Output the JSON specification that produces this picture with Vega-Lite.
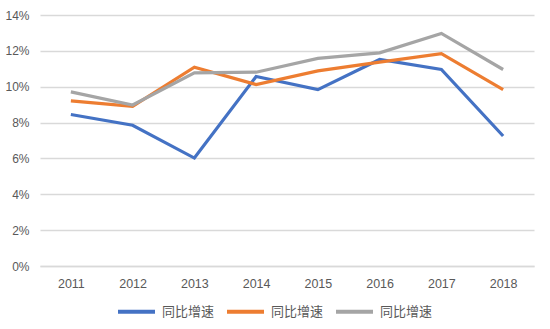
{
  "$schema": "https://vega.github.io/schema/vega-lite/v6.json",
  "width": 494,
  "height": 251,
  "autosize": {"type": "none"},
  "padding": {"left": 40, "top": 15, "right": 16, "bottom": 63},
  "background": "white",
  "config": {
    "view": {"stroke": null},
    "font": "Noto Sans CJK SC"
  },
  "data": {
    "values": [
      {"year": "2011", "series": "s1", "value": 8.45},
      {"year": "2012", "series": "s1", "value": 7.85},
      {"year": "2013", "series": "s1", "value": 6.02},
      {"year": "2014", "series": "s1", "value": 10.57},
      {"year": "2015", "series": "s1", "value": 9.84},
      {"year": "2016", "series": "s1", "value": 11.52},
      {"year": "2017", "series": "s1", "value": 10.96},
      {"year": "2018", "series": "s1", "value": 7.25},
      {"year": "2011", "series": "s2", "value": 9.21},
      {"year": "2012", "series": "s2", "value": 8.91},
      {"year": "2013", "series": "s2", "value": 11.09},
      {"year": "2014", "series": "s2", "value": 10.12},
      {"year": "2015", "series": "s2", "value": 10.88},
      {"year": "2016", "series": "s2", "value": 11.37},
      {"year": "2017", "series": "s2", "value": 11.85},
      {"year": "2018", "series": "s2", "value": 9.84},
      {"year": "2011", "series": "s3", "value": 9.71},
      {"year": "2012", "series": "s3", "value": 8.98},
      {"year": "2013", "series": "s3", "value": 10.77},
      {"year": "2014", "series": "s3", "value": 10.81},
      {"year": "2015", "series": "s3", "value": 11.58},
      {"year": "2016", "series": "s3", "value": 11.89},
      {"year": "2017", "series": "s3", "value": 12.97},
      {"year": "2018", "series": "s3", "value": 10.96}
    ]
  },
  "mark": {"type": "line", "strokeWidth": 3.2, "strokeJoin": "miter"},
  "encoding": {
    "x": {
      "field": "year",
      "type": "ordinal",
      "scale": {"type": "point", "padding": 0.5},
      "axis": {
        "title": null,
        "labelAngle": 0,
        "labelFontSize": 12.5,
        "labelColor": "#595959",
        "labelFont": "Liberation Sans",
        "labelPadding": 11,
        "ticks": false,
        "domainColor": "#d9d9d9",
        "domainWidth": 1.3
      }
    },
    "y": {
      "field": "value",
      "type": "quantitative",
      "scale": {"domain": [0, 14], "nice": false},
      "axis": {
        "title": null,
        "values": [0, 2, 4, 6, 8, 10, 12, 14],
        "labelExpr": "datum.value + '%'",
        "labelFontSize": 12,
        "labelColor": "#595959",
        "labelFont": "Liberation Sans",
        "labelPadding": 11,
        "ticks": false,
        "domain": false,
        "gridColor": "#d9d9d9",
        "gridWidth": 1.3
      }
    },
    "color": {
      "field": "series",
      "type": "nominal",
      "scale": {"domain": ["s1", "s2", "s3"], "range": ["#4472C4", "#ED7D31", "#A5A5A5"]},
      "legend": {
        "title": null,
        "orient": "none",
        "legendX": 76,
        "legendY": 276,
        "direction": "horizontal",
        "columns": 3,
        "columnPadding": 4,
        "labelExpr": "'同比增速'",
        "labelFontSize": 13,
        "labelColor": "#595959",
        "labelOffset": 5,
        "symbolType": "stroke",
        "symbolSize": 1369,
        "symbolStrokeWidth": 4
      }
    }
  }
}
